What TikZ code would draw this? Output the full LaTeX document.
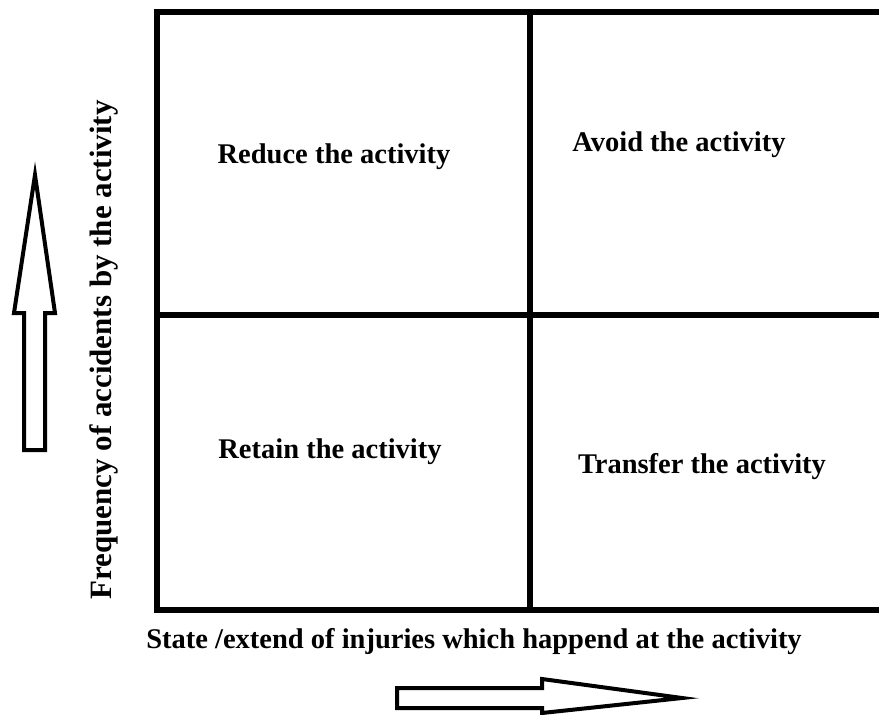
\documentclass[tikz,border=0pt]{standalone}
\usepackage{fontspec}
\setmainfont{Liberation Serif}
\begin{document}
\begin{tikzpicture}[x=1pt,y=-1pt,
  grid/.style={line width=5.5pt},
  blockarrow/.style={line width=4pt, line join=miter, fill=white},
  quad/.style={font=\bfseries\fontsize{28.5}{34}\selectfont, text=black, inner sep=0pt},
  axislabel/.style={font=\bfseries\fontsize{28.5}{34}\selectfont, text=black, inner sep=0pt}]
\useasboundingbox (0,0) rectangle (879,715);
% grid
\coordinate (tl) at (157,12);
\coordinate (tr) at (885,12);
\coordinate (bl) at (157,610);
\coordinate (br) at (885,610);
\coordinate (ml) at (157,315);
\coordinate (mr) at (885,315);
\coordinate (mt) at (530,12);
\coordinate (mb) at (530,610);
\draw[grid] (tr) -- (tl) -- (bl) -- (br);
\draw[grid] (ml) -- (mr);
\draw[grid] (mt) -- (mb);
% quadrant labels
\node[quad] (reduce) at (334,157) {Reduce the activity};
\node[quad] (avoid) at (679,145) {Avoid the activity};
\node[quad] (retain) at (330,452) {Retain the activity};
\node[quad] (transfer) at (702,467) {Transfer the activity};
% axis labels
\node[axislabel] (xlab) at (474,642) {State /extend of injuries which happend at the activity};
\node[axislabel, rotate=90, font=\bfseries\fontsize{31}{36}\selectfont] (ylab) at (104,350) {Frequency of accidents by the activity};
% block arrows
\draw[blockarrow] (24,450) -- (45,450) -- (45,313) -- (55,313) -- (35,175) -- (14,313) -- (24,313) -- cycle;
\draw[blockarrow] (397,688) -- (542,688) -- (542,679) -- (682,698) -- (542,713) -- (542,708) -- (397,708) -- cycle;
\end{tikzpicture}
\end{document}
